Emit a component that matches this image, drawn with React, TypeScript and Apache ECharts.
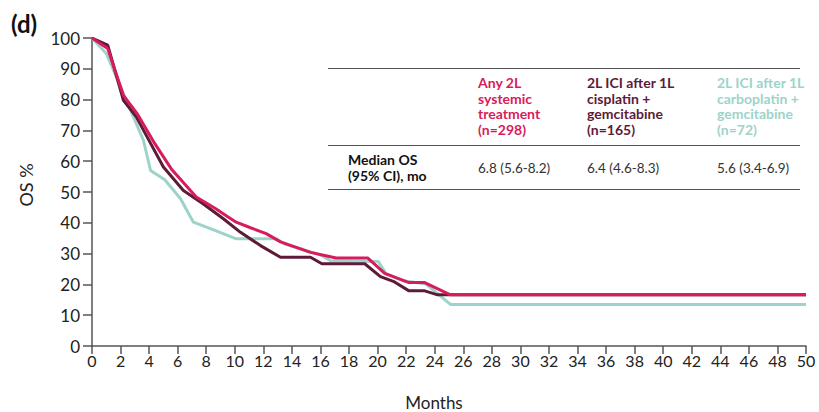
import React, { useEffect, useRef } from "react";
import * as echarts from "echarts";

// Kaplan–Meier overall survival curves (months, OS %)
const anyMonths = [0, 1.1, 2.2, 3.2, 4.4, 5.6, 7.3, 8.7, 9.4, 10.1, 11.1, 12.2, 13.2, 15.3, 17.1, 19.3, 20.5, 22.2, 23.3, 25.1, 50];
const anyOS = [100, 96.6, 81.4, 75.2, 65.7, 57.2, 48.4, 44.5, 42.3, 40.2, 38.4, 36.5, 33.8, 30.4, 28.6, 28.6, 23.6, 20.6, 20.6, 16.6, 16.6];

const cisMonths = [0, 1.1, 2.2, 3.1, 5.0, 6.4, 7.8, 9.2, 10.4, 11.8, 13.2, 15.3, 16.1, 19.1, 20.2, 21.1, 22.2, 23.3, 24.2, 50];
const cisOS = [100, 97.7, 79.8, 74.4, 58.1, 50.5, 46.1, 41.3, 36.9, 32.6, 28.8, 28.8, 26.7, 26.7, 22.5, 21.0, 17.9, 17.9, 16.6, 16.6];

const carboMonths = [0, 1.0, 2.6, 3.6, 4.1, 5.1, 6.2, 7.1, 8.7, 10.1, 12.9, 13.5, 16.0, 16.7, 20.05, 20.6, 21.8, 23.4, 25.1, 50];
const carboOS = [100, 95, 77.6, 66.8, 57, 54, 47.8, 40.2, 37.4, 34.8, 34.8, 33.1, 29.6, 27.7, 27.4, 23.4, 21.2, 20.1, 13.5, 13.5];

// Summary table
const groupNames = [
  "Any 2L\nsystemic\ntreatment\n(n=298)",
  "2L ICI after 1L\ncisplatin +\ngemcitabine\n(n=165)",
  "2L ICI after 1L\ncarboplatin +\ngemcitabine\n(n=72)",
];
const medianOS = ["6.8 (5.6-8.2)", "6.4 (4.6-8.3)", "5.6 (3.4-6.9)"];
const rowLabel = "Median OS\n(95% CI), mo";

const colors = ["#d81b5c", "#5e1a38", "#9dd3ca"];
const FONT = "Lato, 'Open Sans', sans-serif";

const zip = (xs: number[], ys: number[]) => xs.map((x, i) => [x, ys[i]]);

export default function App() {
  const ref = useRef<HTMLDivElement>(null);

  useEffect(() => {
    if (!ref.current) return;
    const chart = echarts.init(ref.current, null, { renderer: "svg" });

    const colX = [478, 587, 717];
    const axisColor = "#555";

    const graphic: any[] = [
      {
        type: "text",
        x: 11,
        y: 23,
        style: { text: "(d)", font: `bold 24px ${FONT}`, fill: "#111", verticalAlign: "middle" },
      },
      {
        type: "text",
        x: 26,
        y: 185,
        rotation: Math.PI / 2,
        style: { text: "OS %", font: `18px ${FONT}`, fill: "#222", align: "center", verticalAlign: "middle" },
      },
      {
        type: "text",
        x: 434,
        y: 402,
        style: { text: "Months", font: `17px ${FONT}`, fill: "#222", align: "center", verticalAlign: "middle" },
      },
      { type: "line", shape: { x1: 328, y1: 68.5, x2: 800, y2: 68.5 }, style: { stroke: axisColor, lineWidth: 1 } },
      { type: "line", shape: { x1: 328, y1: 145.5, x2: 800, y2: 145.5 }, style: { stroke: axisColor, lineWidth: 1 } },
      { type: "line", shape: { x1: 328, y1: 189.5, x2: 800, y2: 189.5 }, style: { stroke: axisColor, lineWidth: 1 } },
      {
        type: "text",
        x: 348,
        y: 152,
        style: { text: rowLabel, font: `bold 14px ${FONT}`, fill: "#111", lineHeight: 15.5, verticalAlign: "top" },
      },
    ];
    groupNames.forEach((name, i) => {
      graphic.push({
        type: "text",
        x: colX[i],
        y: 75,
        style: { text: name, font: `bold 14px ${FONT}`, fill: colors[i], lineHeight: 15.5, verticalAlign: "top" },
      });
      graphic.push({
        type: "text",
        x: colX[i],
        y: 168,
        style: { text: medianOS[i], font: `13.5px ${FONT}`, fill: "#333", verticalAlign: "middle" },
      });
    });

    const mkSeries = (name: string, data: number[][], color: string, z: number) => ({
      name,
      type: "line",
      data,
      showSymbol: false,
      symbol: "none",
      z,
      lineStyle: { width: 3, color },
      itemStyle: { color },
    });

    chart.setOption({
      animation: false,
      textStyle: { fontFamily: FONT },
      grid: { left: 92, right: 13, top: 38, bottom: 66, containLabel: false },
      xAxis: {
        type: "value",
        min: 0,
        max: 50,
        interval: 2,
        axisLine: { show: true, lineStyle: { color: axisColor, width: 1.5 } },
        axisTick: { show: true, length: 8, lineStyle: { color: axisColor, width: 1.5 } },
        axisLabel: { fontSize: 16, color: "#222", margin: 6, fontFamily: FONT },
        splitLine: { show: false },
      },
      yAxis: {
        type: "value",
        min: 0,
        max: 100,
        interval: 10,
        axisLine: { show: true, lineStyle: { color: axisColor, width: 1.5 } },
        axisTick: { show: true, length: 9, lineStyle: { color: axisColor, width: 1.5 } },
        axisLabel: { fontSize: 17, color: "#222", margin: 12, fontFamily: FONT },
        splitLine: { show: false },
      },
      graphic,
      series: [
        mkSeries("2L ICI after 1L carboplatin + gemcitabine", zip(carboMonths, carboOS), colors[2], 2),
        mkSeries("2L ICI after 1L cisplatin + gemcitabine", zip(cisMonths, cisOS), colors[1], 3),
        mkSeries("Any 2L systemic treatment", zip(anyMonths, anyOS), colors[0], 4),
      ],
    });

    return () => chart.dispose();
  }, []);

  return (
    <div
      ref={ref}
      style={{ position: "fixed", left: 0, top: 0, width: 819, height: 412, background: "#fff" }}
    />
  );
}
